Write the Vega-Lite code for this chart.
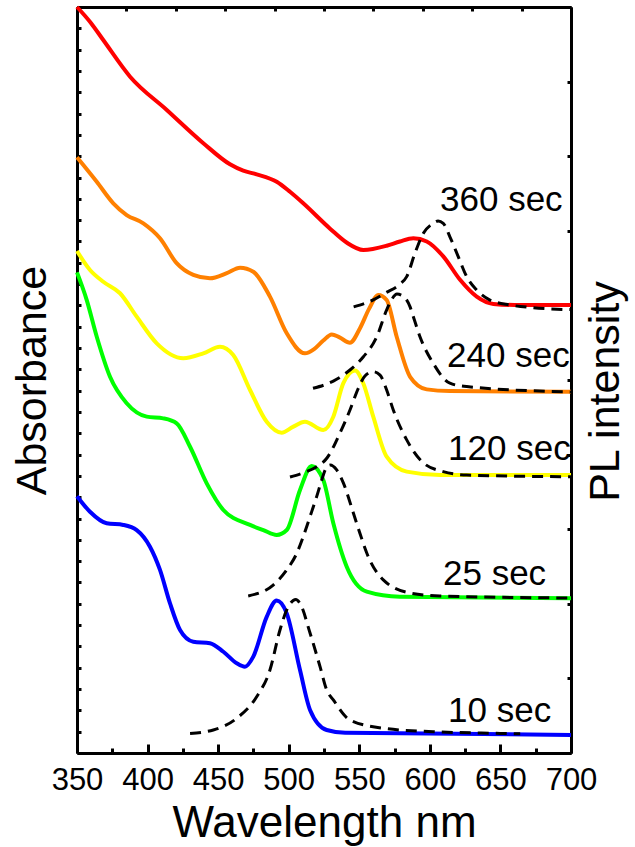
{
  "$schema": "https://vega.github.io/schema/vega-lite/v6.json",
  "width": 494,
  "height": 746,
  "autosize": "none",
  "padding": {"left": 77, "top": 7, "right": 64, "bottom": 94},
  "config": {
    "view": {"stroke": null},
    "font": "Liberation Sans",
    "axis": {"grid": false, "domainColor": "black", "tickColor": "black", "labelColor": "black", "titleColor": "black", "domainWidth": 3, "tickWidth": 3, "titleFontWeight": "normal", "labelFont": "Liberation Sans", "titleFont": "Liberation Sans"}
  },
  "datasets": {
    "abs": [
      {"s":"360 sec","wl":350,"v":35.0},{"s":"360 sec","wl":360,"v":34.24},{"s":"360 sec","wl":368.6,"v":33.45},{"s":"360 sec","wl":387.6,"v":31.73},{"s":"360 sec","wl":413.6,"v":30.17},{"s":"360 sec","wl":439.5,"v":28.61},{"s":"360 sec","wl":458.4,"v":27.62},{"s":"360 sec","wl":467.8,"v":27.32},{"s":"360 sec","wl":477.3,"v":27.15},{"s":"360 sec","wl":491.5,"v":26.8},{"s":"360 sec","wl":500.9,"v":26.33},{"s":"360 sec","wl":510.3,"v":25.79},{"s":"360 sec","wl":529.3,"v":24.6},{"s":"360 sec","wl":541,"v":23.95},{"s":"360 sec","wl":552.9,"v":23.6},{"s":"360 sec","wl":569.4,"v":23.8},{"s":"360 sec","wl":578.8,"v":24.0},{"s":"360 sec","wl":588.3,"v":24.15},{"s":"360 sec","wl":597.8,"v":24.0},{"s":"360 sec","wl":609.5,"v":23.3},{"s":"360 sec","wl":621.4,"v":22.2},{"s":"360 sec","wl":633.2,"v":21.41},{"s":"360 sec","wl":645,"v":21.07},{"s":"360 sec","wl":660,"v":21.02},{"s":"360 sec","wl":700,"v":21.02},
      {"s":"240 sec","wl":350,"v":27.95},{"s":"240 sec","wl":364,"v":26.8},{"s":"240 sec","wl":375.7,"v":25.79},{"s":"240 sec","wl":385.2,"v":25.24},{"s":"240 sec","wl":397,"v":24.85},{"s":"240 sec","wl":408.8,"v":24.15},{"s":"240 sec","wl":420.6,"v":22.98},{"s":"240 sec","wl":432.4,"v":22.43},{"s":"240 sec","wl":444.2,"v":22.27},{"s":"240 sec","wl":456.1,"v":22.51},{"s":"240 sec","wl":465.5,"v":22.77},{"s":"240 sec","wl":474.9,"v":22.58},{"s":"240 sec","wl":486.7,"v":21.41},{"s":"240 sec","wl":498.6,"v":19.69},{"s":"240 sec","wl":511.5,"v":18.75},{"s":"240 sec","wl":518,"v":18.95},{"s":"240 sec","wl":524.5,"v":19.35},{"s":"240 sec","wl":530.5,"v":19.64},{"s":"240 sec","wl":536,"v":19.5},{"s":"240 sec","wl":543.4,"v":19.25},{"s":"240 sec","wl":550.5,"v":19.93},{"s":"240 sec","wl":557,"v":20.85},{"s":"240 sec","wl":563.5,"v":21.49},{"s":"240 sec","wl":569.4,"v":21.25},{"s":"240 sec","wl":576.5,"v":19.53},{"s":"240 sec","wl":586,"v":17.65},{"s":"240 sec","wl":597.8,"v":17.06},{"s":"240 sec","wl":614.1,"v":16.98},{"s":"240 sec","wl":700,"v":16.95},
      {"s":"120 sec","wl":350,"v":23.55},{"s":"120 sec","wl":359.2,"v":22.66},{"s":"120 sec","wl":368.6,"v":22.11},{"s":"120 sec","wl":380.5,"v":21.57},{"s":"120 sec","wl":392.3,"v":20.47},{"s":"120 sec","wl":406.5,"v":19.22},{"s":"120 sec","wl":425.3,"v":18.52},{"s":"120 sec","wl":439.5,"v":18.75},{"s":"120 sec","wl":451.3,"v":19.06},{"s":"120 sec","wl":460.7,"v":18.67},{"s":"120 sec","wl":472.6,"v":17.03},{"s":"120 sec","wl":484.4,"v":15.54},{"s":"120 sec","wl":495,"v":15.03},{"s":"120 sec","wl":503,"v":15.3},{"s":"120 sec","wl":511.5,"v":15.54},{"s":"120 sec","wl":524.5,"v":15.15},{"s":"120 sec","wl":531.6,"v":15.78},{"s":"120 sec","wl":538.7,"v":17.35},{"s":"120 sec","wl":547,"v":17.94},{"s":"120 sec","wl":552.8,"v":17.35},{"s":"120 sec","wl":559.9,"v":15.78},{"s":"120 sec","wl":569.4,"v":13.9},{"s":"120 sec","wl":583.6,"v":13.2},{"s":"120 sec","wl":607.2,"v":13.04},{"s":"120 sec","wl":700,"v":13.04},
      {"s":"25 sec","wl":350,"v":22.55},{"s":"25 sec","wl":356.9,"v":21.25},{"s":"25 sec","wl":364,"v":19.53},{"s":"25 sec","wl":373.4,"v":17.65},{"s":"25 sec","wl":385.2,"v":16.41},{"s":"25 sec","wl":399.4,"v":15.78},{"s":"25 sec","wl":411.1,"v":15.7},{"s":"25 sec","wl":420.6,"v":15.47},{"s":"25 sec","wl":430.1,"v":14.37},{"s":"25 sec","wl":441.9,"v":12.65},{"s":"25 sec","wl":453.7,"v":11.4},{"s":"25 sec","wl":472.6,"v":10.7},{"s":"25 sec","wl":482,"v":10.46},{"s":"25 sec","wl":491.5,"v":10.23},{"s":"25 sec","wl":498.6,"v":10.46},{"s":"25 sec","wl":508,"v":12.34},{"s":"25 sec","wl":516.3,"v":13.47},{"s":"25 sec","wl":524.5,"v":12.81},{"s":"25 sec","wl":531.6,"v":10.78},{"s":"25 sec","wl":541.1,"v":8.74},{"s":"25 sec","wl":555.3,"v":7.57},{"s":"25 sec","wl":578.8,"v":7.33},{"s":"25 sec","wl":700,"v":7.26},
      {"s":"10 sec","wl":350,"v":12.05},{"s":"10 sec","wl":359.2,"v":11.32},{"s":"10 sec","wl":371,"v":10.78},{"s":"10 sec","wl":382.8,"v":10.7},{"s":"10 sec","wl":392.3,"v":10.46},{"s":"10 sec","wl":401.7,"v":9.68},{"s":"10 sec","wl":408.8,"v":8.59},{"s":"10 sec","wl":415.9,"v":7.02},{"s":"10 sec","wl":423,"v":5.77},{"s":"10 sec","wl":432.4,"v":5.22},{"s":"10 sec","wl":444.2,"v":5.15},{"s":"10 sec","wl":453.7,"v":4.75},{"s":"10 sec","wl":463.2,"v":4.21},{"s":"10 sec","wl":469,"v":4.05},{"s":"10 sec","wl":474.9,"v":4.52},{"s":"10 sec","wl":484.4,"v":6.39},{"s":"10 sec","wl":491.5,"v":7.15},{"s":"10 sec","wl":498.6,"v":6.55},{"s":"10 sec","wl":508,"v":3.89},{"s":"10 sec","wl":515.1,"v":2.02},{"s":"10 sec","wl":526.9,"v":1.08},{"s":"10 sec","wl":540,"v":0.95},{"s":"10 sec","wl":700,"v":0.85}
    ],
    "pl": [
      {"s":"10 sec","wl":430.1,"v":0.92},{"s":"10 sec","wl":446.6,"v":1.08},{"s":"10 sec","wl":463.2,"v":1.63},{"s":"10 sec","wl":477.3,"v":2.64},{"s":"10 sec","wl":486.7,"v":3.89},{"s":"10 sec","wl":493.8,"v":5.77},{"s":"10 sec","wl":498.6,"v":6.71},{"s":"10 sec","wl":505,"v":7.2},{"s":"10 sec","wl":508,"v":7.02},{"s":"10 sec","wl":515.1,"v":5.63},{"s":"10 sec","wl":522.2,"v":4.05},{"s":"10 sec","wl":526.9,"v":2.96},{"s":"10 sec","wl":531.6,"v":2.49},{"s":"10 sec","wl":543.4,"v":1.55},{"s":"10 sec","wl":567,"v":1.16},{"s":"10 sec","wl":602.4,"v":1.0},{"s":"10 sec","wl":649.7,"v":0.92},{"s":"10 sec","wl":664,"v":0.9},
      {"s":"25 sec","wl":471.3,"v":7.37},{"s":"25 sec","wl":489,"v":7.88},{"s":"25 sec","wl":498.6,"v":8.59},{"s":"25 sec","wl":505.7,"v":9.37},{"s":"25 sec","wl":510.3,"v":10.15},{"s":"25 sec","wl":515.1,"v":11.09},{"s":"25 sec","wl":519.8,"v":12.03},{"s":"25 sec","wl":523.4,"v":12.81},{"s":"25 sec","wl":526,"v":13.3},{"s":"25 sec","wl":529.3,"v":13.51},{"s":"25 sec","wl":534,"v":13.28},{"s":"25 sec","wl":538.7,"v":12.67},{"s":"25 sec","wl":545.8,"v":11.26},{"s":"25 sec","wl":550.5,"v":10.3},{"s":"25 sec","wl":555.3,"v":9.38},{"s":"25 sec","wl":567,"v":8.12},{"s":"25 sec","wl":585.8,"v":7.51},{"s":"25 sec","wl":607.1,"v":7.37},{"s":"25 sec","wl":700,"v":7.27},
      {"s":"120 sec","wl":500.9,"v":12.95},{"s":"120 sec","wl":510.1,"v":13.14},{"s":"120 sec","wl":519.8,"v":13.43},{"s":"120 sec","wl":527.1,"v":13.84},{"s":"120 sec","wl":536.3,"v":15.01},{"s":"120 sec","wl":543.4,"v":16.09},{"s":"120 sec","wl":549.3,"v":17.11},{"s":"120 sec","wl":554,"v":17.69},{"s":"120 sec","wl":559.9,"v":17.89},{"s":"120 sec","wl":564.7,"v":17.73},{"s":"120 sec","wl":569.4,"v":17.03},{"s":"120 sec","wl":574.1,"v":16.09},{"s":"120 sec","wl":583.6,"v":14.69},{"s":"120 sec","wl":595.4,"v":13.61},{"s":"120 sec","wl":609.5,"v":13.2},{"s":"120 sec","wl":626.1,"v":13.04},{"s":"120 sec","wl":700,"v":12.96},
      {"s":"240 sec","wl":517.2,"v":17.11},{"s":"240 sec","wl":531.6,"v":17.45},{"s":"240 sec","wl":543.4,"v":17.97},{"s":"240 sec","wl":552.9,"v":18.59},{"s":"240 sec","wl":562.4,"v":19.53},{"s":"240 sec","wl":569.4,"v":20.79},{"s":"240 sec","wl":573.2,"v":21.3},{"s":"240 sec","wl":576.7,"v":21.53},{"s":"240 sec","wl":581,"v":21.44},{"s":"240 sec","wl":586,"v":20.93},{"s":"240 sec","wl":588.3,"v":20.47},{"s":"240 sec","wl":593,"v":19.53},{"s":"240 sec","wl":602.4,"v":18.28},{"s":"240 sec","wl":614.2,"v":17.35},{"s":"240 sec","wl":626.1,"v":17.19},{"s":"240 sec","wl":700,"v":16.94},
      {"s":"360 sec","wl":546,"v":20.93},{"s":"360 sec","wl":559.9,"v":21.26},{"s":"360 sec","wl":568.9,"v":21.6},{"s":"360 sec","wl":578.8,"v":22.0},{"s":"360 sec","wl":583.6,"v":22.35},{"s":"360 sec","wl":589.5,"v":23.46},{"s":"360 sec","wl":595.4,"v":24.38},{"s":"360 sec","wl":602.4,"v":24.85},{"s":"360 sec","wl":605.8,"v":24.96},{"s":"360 sec","wl":609.5,"v":24.85},{"s":"360 sec","wl":614.2,"v":24.22},{"s":"360 sec","wl":620.1,"v":23.29},{"s":"360 sec","wl":626.1,"v":22.35},{"s":"360 sec","wl":633.2,"v":21.72},{"s":"360 sec","wl":642.6,"v":21.25},{"s":"360 sec","wl":656.8,"v":21.02},{"s":"360 sec","wl":673.3,"v":20.89},{"s":"360 sec","wl":700,"v":20.8}
    ],
    "lab": [
      {"t":"360 sec","wl":607.2,"v":25.43},
      {"t":"240 sec","wl":612.2,"v":18.11},
      {"t":"120 sec","wl":612.9,"v":13.75},
      {"t":"25 sec","wl":609.3,"v":7.88},
      {"t":"10 sec","wl":612.9,"v":1.47}
    ]
  },
  "resolve": {"axis": {"x": "independent", "y": "independent"}},
  "layer": [
    {
      "data": {"name": "abs"},
      "mark": {"type": "line", "strokeWidth": 4, "interpolate": "monotone"},
      "encoding": {
        "x": {"field": "wl", "type": "quantitative", "scale": {"domain": [350, 700], "nice": false, "zero": false},
          "axis": {"orient": "bottom", "values": [350, 400, 450, 500, 550, 600, 650, 700], "title": "Wavelength nm", "titleFontSize": 44, "titlePadding": 6, "labelFontSize": 31, "labelFlush": false, "labelOverlap": false, "tickSize": -9, "labelPadding": 21}},
        "y": {"field": "v", "type": "quantitative", "scale": {"domain": [0, 35], "nice": false, "zero": false},
          "axis": {"orient": "left", "values": [0,1,2,3,4,5,6,7,8,9,10,11,12,13,14,15,16,17,18,19,20,21,22,23,24,25,26,27,28,29,30,31,32,33,34,35], "labels": false, "title": "Absorbance", "titleFontSize": 43, "titlePadding": 21, "tickSize": -4}},
        "color": {"field": "s", "type": "nominal", "legend": null,
          "scale": {"domain": ["10 sec", "25 sec", "120 sec", "240 sec", "360 sec"], "range": ["#0000FF", "#00FF00", "#FFFF00", "#FF8000", "#FF0000"]}}
      }
    },
    {
      "data": {"name": "pl"},
      "mark": {"type": "line", "strokeWidth": 3, "strokeDash": [11, 7], "color": "black", "interpolate": "monotone"},
      "encoding": {
        "x": {"field": "wl", "type": "quantitative",
          "axis": {"orient": "bottom", "values": [375, 425, 475, 525, 575, 625, 675], "labels": false, "title": null, "domain": false, "tickSize": -5}},
        "y": {"field": "v", "type": "quantitative",
          "axis": {"orient": "right", "values": [0, 3.5, 7, 10.5, 14, 17.5, 21, 24.5, 28, 31.5, 35], "labels": false, "title": "PL intensity", "titleFontSize": 43, "titleAngle": 270, "titleBaseline": "top", "titlePadding": 12, "titleY": 384, "tickSize": -4}},
        "detail": {"field": "s", "type": "nominal"}
      }
    },
    {
      "data": {"name": "lab"},
      "mark": {"type": "text", "align": "left", "baseline": "alphabetic", "fontSize": 35, "font": "Liberation Sans", "color": "black"},
      "encoding": {
        "x": {"field": "wl", "type": "quantitative",
          "axis": {"orient": "top", "values": [350, 385, 420, 455, 490, 525, 560, 595, 630, 665, 700], "labels": false, "title": null, "tickSize": -4}},
        "y": {"field": "v", "type": "quantitative", "axis": null},
        "text": {"field": "t", "type": "nominal"}
      }
    }
  ]
}
